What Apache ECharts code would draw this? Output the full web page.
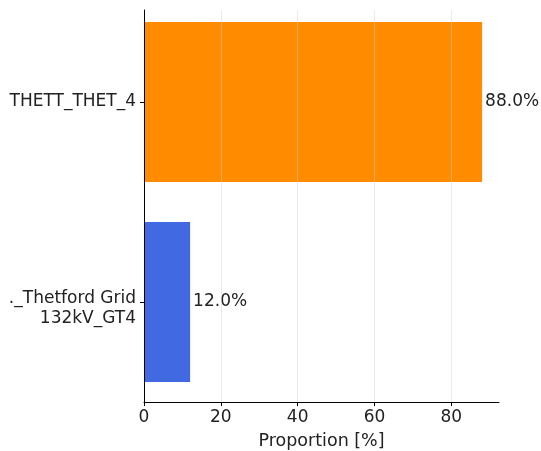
<!DOCTYPE html>
<html>
<head>
<meta charset="utf-8">
<script src="https://cdn.jsdelivr.net/npm/echarts@6/dist/echarts.min.js"></script>
<style>html,body{margin:0;padding:0;background:#fff}#c{width:541px;height:451px}</style>
</head>
<body>
<div id="c"></div>
<script>
const categories = ['._Thetford Grid\n132kV_GT4', 'THETT_THET_4'];
const values = [12.0, 88.0];
const barColors = ['#4169e1', '#ff8c00'];
const xTicks = [0, 20, 40, 60, 80];
const xTitle = 'Proportion [%]';

const FONT = 'DejaVu Sans';
const FS = 17;
const chart = echarts.init(document.getElementById('c'), null, {renderer: 'canvas'});
chart.setOption({
  animation: false,
  backgroundColor: '#fff',
  grid: [
    {left: 144, right: 42, top: 2, bottom: 49, containLabel: false, outerBoundsMode: 'none'},
    {left: 144, right: 42, top: 10, bottom: 49, containLabel: false, outerBoundsMode: 'none'}
  ],
  xAxis: [{
    gridIndex: 0, type: 'value', min: 0, max: 92.4, interval: 20, z: 5,
    name: xTitle, nameLocation: 'middle', nameGap: 30,
    nameTextStyle: {fontFamily: FONT, fontSize: 17.5, color: '#222'},
    axisLine: {show: true, lineStyle: {color: '#000', width: 1}},
    axisTick: {show: true, length: 4, lineStyle: {color: '#000'}, customValues: xTicks},
    axisLabel: {fontFamily: FONT, fontSize: FS, color: '#222', margin: 7, customValues: xTicks},
    splitLine: {show: false}
  }, {
    gridIndex: 1, type: 'value', min: 0, max: 92.4, interval: 20, z: 4,
    axisLine: {show: false}, axisTick: {show: false, customValues: xTicks},
    axisLabel: {show: false, customValues: xTicks},
    splitLine: {show: true, lineStyle: {color: 'rgba(210,210,210,0.45)', width: 1}}
  }],
  yAxis: [{
    gridIndex: 0, type: 'category', data: categories, z: 5,
    axisLine: {show: false},
    axisTick: {show: true, length: 4, alignWithLabel: true, lineStyle: {color: '#000'}},
    axisLabel: {
      fontFamily: FONT, fontSize: FS, color: '#222', margin: 8, align: 'right',
      formatter: v => {
        const parts = v.split('\n');
        if (parts.length === 1) return '{s|' + v + '}';
        return parts.map((p, i) => (i === 0 ? '{f|' : '{s|') + p + '}').join('\n');
      },
      rich: {
        s: {fontFamily: FONT, fontSize: FS, color: '#222', lineHeight: 23},
        f: {fontFamily: FONT, fontSize: FS, color: '#222', lineHeight: 33, verticalAlign: 'bottom'}
      }
    },
    splitLine: {show: false}
  }, {
    gridIndex: 1, type: 'value', min: 0, max: 1, z: 5,
    axisLine: {show: true, lineStyle: {color: '#000', width: 1}},
    axisTick: {show: false}, axisLabel: {show: false}, splitLine: {show: false}
  }],
  series: [{
    type: 'bar', xAxisIndex: 0, yAxisIndex: 0,
    data: values.map((v, i) => ({value: v, itemStyle: {color: barColors[i]}})),
    barCategoryGap: '20%',
    label: {show: true, position: 'right', distance: 3, fontFamily: FONT, fontSize: FS, color: '#222',
      formatter: p => p.value.toFixed(1) + '%'}
  }]
});
</script>
</body>
</html>
